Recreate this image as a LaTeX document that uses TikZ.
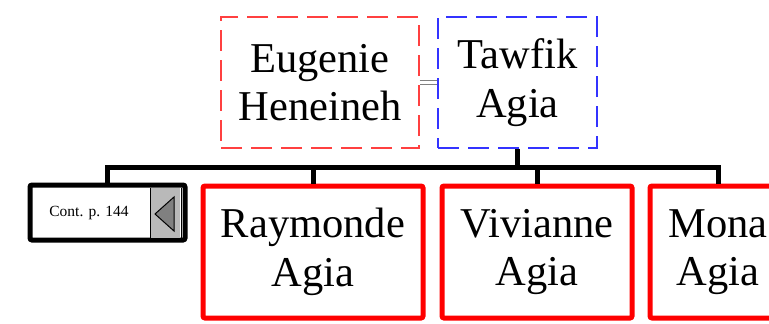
\documentclass[tikz,border=0pt]{standalone}
\usepackage{fontspec}
\setmainfont{Liberation Serif}
\begin{document}
\begin{tikzpicture}[x=1pt,y=-1pt,
  big/.style={align=center, font=\fontsize{42.5}{48.5}\selectfont, inner sep=0pt},
  person/.style={big, draw=red, line width=5pt, rounded corners=2pt},
  parentbox/.style={big, line width=1.2pt, dash pattern=on 21pt off 9pt},
  link/.style={line width=5pt, line join=miter}]
\useasboundingbox (0,0) rectangle (769,324);
\node[parentbox, draw=red!75, minimum width=198pt, minimum height=131pt] (eug) at (320,82.5) {Eugenie\\Heneineh};
\node[parentbox, draw=blue!80, minimum width=159pt, minimum height=131pt] (taw) at (517.5,82.5) {Tawfik\\Agia};
\draw[gray, double, double distance=3pt, line width=1pt] (eug.east) -- (taw.west);
\node[draw=black, line width=5pt, rounded corners=2pt, minimum width=155pt, minimum height=55pt, inner sep=0pt] (cont) at (107.5,212.5) {};
\node[font=\fontsize{15.5}{17}\selectfont, inner sep=0pt] (contt) at (89,213) {Cont. p. 144};
\fill[gray!55] (150,187.5) rectangle (180,238);
\draw[line width=0.8pt] (150,187.5) -- (150,238);
\draw[line width=0.8pt] (181.5,187.5) -- (181.5,238);
\draw[fill=gray, line width=1pt] (155,214) -- (174,197) -- (174,231) -- cycle;
\node[person, minimum width=220pt, minimum height=132pt] (ray) at (313,252) {Raymonde\\Agia};
\node[person, minimum width=190pt, minimum height=132pt] (viv) at (537,252) {Vivianne\\Agia};
\node[person, minimum width=136pt, minimum height=132pt] (mona) at (718,252) {Mona\\Agia};
\coordinate (j) at (517.5,167);
\draw[link] (taw.south) -- (j);
\draw[link] (cont.north) |- (j) -| (mona.north);
\draw[link] (ray.north) -- (ray.north |- j);
\draw[link] (viv.north) -- (viv.north |- j);
\end{tikzpicture}
\end{document}
